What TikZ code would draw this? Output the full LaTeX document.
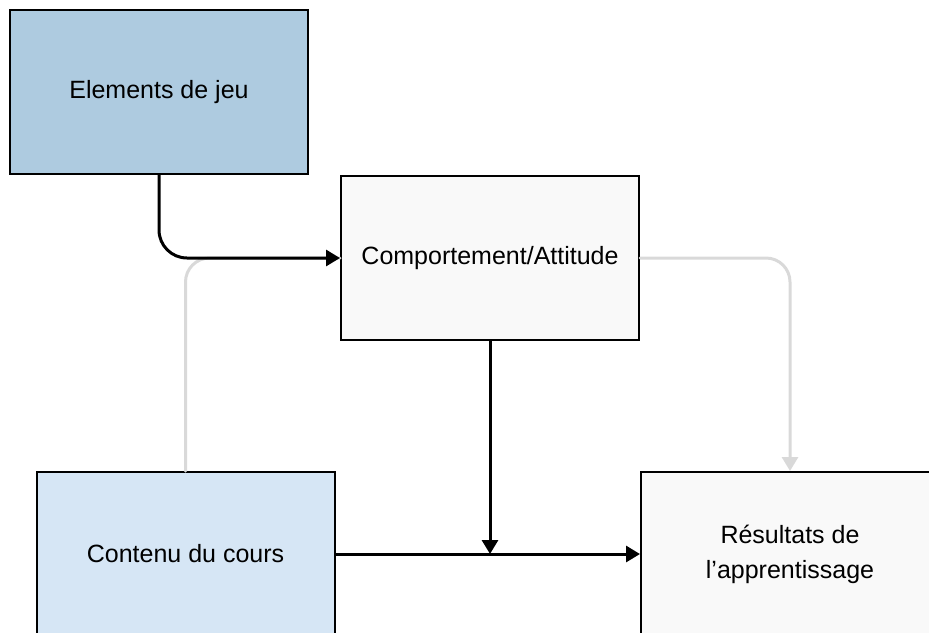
\documentclass[tikz,border=0pt]{standalone}
\usepackage{fontspec}
\setmainfont{Liberation Sans}
\usetikzlibrary{arrows.meta, positioning}
\definecolor{jeublue}{RGB}{174,203,224}
\definecolor{coursblue}{RGB}{214,230,245}
\definecolor{boxgray}{RGB}{249,249,249}
\definecolor{linegray}{RGB}{217,217,217}

\begin{document}
\begin{tikzpicture}[x=0.5pt, y=-0.5pt, line cap=round,
    box/.style={draw=black, line width=1pt, minimum width=149pt, minimum height=82pt,
        inner sep=0pt, align=center, font=\fontsize{12.5}{17.5}\selectfont},
    link/.style={line width=1.5pt, rounded corners=14pt, -{Triangle[length=7pt, width=8pt]}},
    faint/.style={draw=linegray, line width=1.5pt, rounded corners=12pt}]
        %\draw [step=50, very thin, lightgray] (0,0) grid (929,632);
        \useasboundingbox (0,0) rectangle (929,632);
        \clip (0,0) rectangle (929,632);

        \node [box, fill=jeublue] (jeu) at (159,92) {Elements de jeu};
        \node [box, fill=boxgray] (comp) at (490,258) {Comportement/Attitude};
        \node [box, fill=coursblue] (cours) at (185.5,554) {Contenu du cours};
        \node [box, fill=boxgray] (res) at (790,554) {Résultats de\\l’apprentissage};

        \draw [faint] (cours.north) |- (comp.west);
        \draw [faint, -{Triangle[length=7pt, width=8pt]}] (comp.east) -| (res.north);

        \coordinate (meet) at (comp.south |- cours.east);
        \draw [link] (jeu.south) |- (comp.west);
        \draw [link] (comp.south) -- (meet);
        \draw [link] (cours.east) -- (res.west);
    \end{tikzpicture}
\end{document}
